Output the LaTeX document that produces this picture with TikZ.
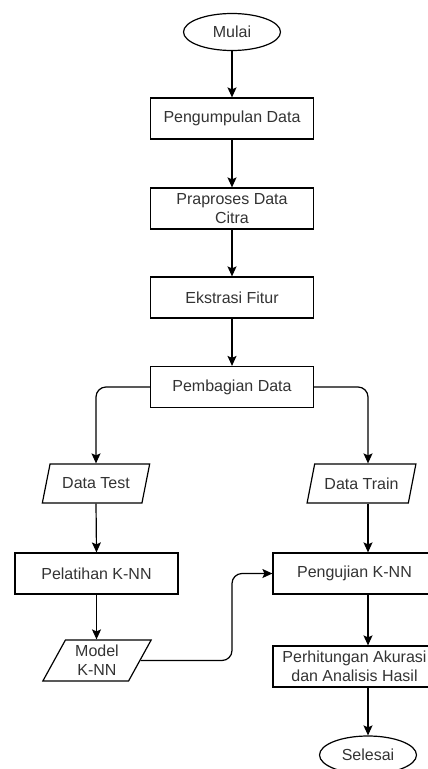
\documentclass[tikz,border=0pt]{standalone}
\usepackage{fontspec}
\setmainfont{Liberation Sans}
\usetikzlibrary{shapes.geometric,arrows.meta}

\definecolor{inkline}{HTML}{000000}
\definecolor{inktext}{HTML}{333333}

\begin{document}
\begin{tikzpicture}[x=1pt,y=-1pt,
  every node/.style={font=\fontsize{16}{19}\selectfont, text=inktext, inner sep=0pt, align=center},
  procbox/.style={draw=inkline, line width=1.2pt, rectangle, minimum width=163pt, minimum height=41pt},
  termin/.style={draw=inkline, line width=1.2pt, ellipse, minimum width=97pt, minimum height=37pt},
  iobox/.style={draw=inkline, line width=1.2pt, trapezium, trapezium left angle=63, trapezium right angle=117,
                trapezium stretches=true, minimum width=108pt, minimum height=39pt},
  arr/.style={draw=inkline, line width=1.2pt, -{Stealth[length=10pt,width=9pt,inset=2pt]}},
  elbow/.style={rounded corners=10pt}]

\useasboundingbox (0,0) rectangle (428,769);
\clip (0,0) rectangle (428,769);

% main column
\node[termin]  (mulai)  at (232,32)    {Mulai};
\node[procbox] (kumpul) at (232,118.5) {Pengumpulan Data};
\node[procbox] (pra)    at (232,208.5) {Praproses Data\\Citra};
\node[procbox] (fitur)  at (232,297.5) {Ekstrasi Fitur};
\node[procbox] (bagi)   at (232,387)   {Pembagian Data};

% left branch
\node[iobox]   (dtest)  at (96,483.5)  {Data Test};
\node[procbox] (latih)  at (96.5,573.5) {Pelatihan K-NN};
\node[iobox, minimum width=109pt, minimum height=41pt] (model) at (97,660.5) {Model\\K-NN};

% right branch
\node[iobox, minimum width=109pt] (dtrain) at (361.5,483.5) {Data Train};
\node[procbox] (uji)    at (354.5,573.5) {Pengujian K-NN};
\node[procbox] (hitung) at (354.5,666.5) {Perhitungan Akurasi\\dan Analisis Hasil};
\node[termin, minimum height=38pt]  (selesai) at (368,755) {Selesai};

% helper x positions for the connectors
\coordinate (rx) at (368,0);
\coordinate (mid) at (232,616);

\draw[arr] (mulai.south) -- (kumpul.north);
\draw[arr] (kumpul.south) -- (pra.north);
\draw[arr] (pra.south) -- (fitur.north);
\draw[arr] (fitur.south) -- (bagi.north);

\draw[arr, elbow] (bagi.west) -| (dtest.north);
\draw[arr, elbow] (bagi.east) -| (rx |- dtrain.north);

\draw[arr] (dtest.south) -- (latih.north);
\draw[arr] (latih.south) -- (latih.south |- model.north);
\draw[arr, elbow] (model.east) -| (mid) |- (uji.west);

\draw[arr] (rx |- dtrain.south) -- (rx |- uji.north);
\draw[arr] (rx |- uji.south) -- (rx |- hitung.north);
\draw[arr] (rx |- hitung.south) -- (selesai.north);
\end{tikzpicture}
\end{document}
